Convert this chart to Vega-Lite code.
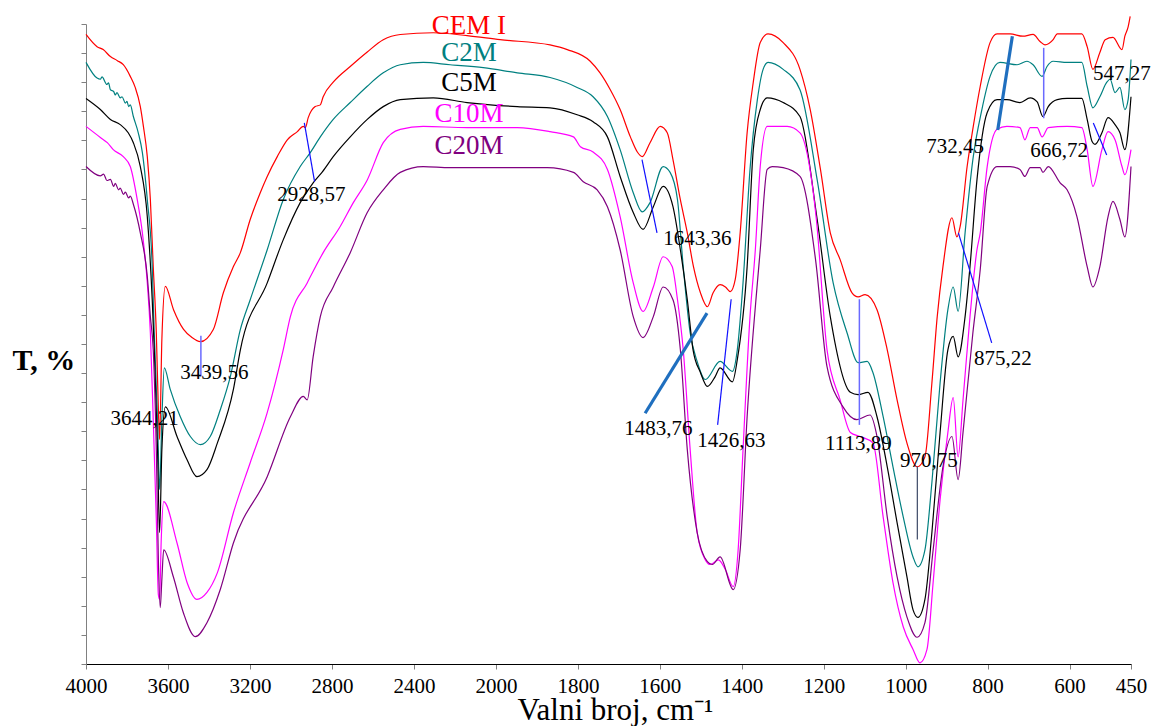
{
"$schema": "https://vega.github.io/schema/vega-lite/v6.json",
"width": 1045, "height": 640,
"autosize": {"type": "none"},
"padding": {"left": 86, "top": 24, "right": 23, "bottom": 62},
"background": "white",
"config": {"view": {"stroke": null}, "font": "Liberation Serif"},
"encoding": {
  "x": {"field": "w", "type": "quantitative",
    "scale": {"domain": [4000, 2000, 450], "range": [0, 410, 1045], "zero": false, "nice": false},
    "axis": {"title": "Valni broj, cm⁻¹", "values": [4000,3600,3200,2800,2400,2000,1800,1600,1400,1200,1000,800,600,450],
      "format": "d", "labelFlush": false, "labelOverlap": false, "labelFontSize": 21, "labelFont": "Liberation Serif",
      "labelColor": "black", "labelPadding": 6, "tickColor": "#808080", "tickSize": 5, "domainColor": "black", "grid": false,
      "titleFontSize": 31, "titleFontWeight": "normal", "titleFont": "Liberation Serif", "titleColor": "black",
      "titleBaseline": "alphabetic", "titleY": 55, "titleX": 529, "titleAlign": "center"}},
  "y": {"field": "t", "type": "quantitative",
    "scale": {"domain": [0, 110], "zero": false, "nice": false},
    "axis": {"title": "T, %", "labels": false, "values": [0,5,10,15,20,25,30,35,40,45,50,55,60,65,70,75,80,85,90,95,100,105,110],
      "tickColor": "#808080", "domainColor": "#808080", "tickSize": 5, "grid": false, "titleAngle": 0, "titleX": -74, "titleY": 345,
      "titleAlign": "left", "titleBaseline": "alphabetic", "titleFontSize": 30, "titleFontWeight": "bold",
      "titleFont": "Liberation Serif", "titleColor": "black"}}
},
"layer": [
{
  "data": {"values": [
{"s":"CEM I","w":4000,"t":108.2},{"s":"CEM I","w":3946,"t":106.1},{"s":"CEM I","w":3916,"t":105.6},{"s":"CEM I","w":3881,"t":104.4},{"s":"CEM I","w":3847,"t":103.7},{"s":"CEM I","w":3818,"t":103.0},{"s":"CEM I","w":3784,"t":101.0},{"s":"CEM I","w":3760,"t":99.1},{"s":"CEM I","w":3735,"t":95.8},{"s":"CEM I","w":3720,"t":92.4},{"s":"CEM I","w":3701,"t":87.2},{"s":"CEM I","w":3686,"t":79.8},{"s":"CEM I","w":3672,"t":68.3},{"s":"CEM I","w":3657,"t":56.9},{"s":"CEM I","w":3647,"t":43.8},{"s":"CEM I","w":3641,"t":38.6},{"s":"CEM I","w":3630,"t":55.7},{"s":"CEM I","w":3613,"t":64.9},{"s":"CEM I","w":3573,"t":60.9},{"s":"CEM I","w":3524,"t":57.5},{"s":"CEM I","w":3483,"t":56.1},{"s":"CEM I","w":3442,"t":55.4},{"s":"CEM I","w":3379,"t":57.5},{"s":"CEM I","w":3330,"t":63.8},{"s":"CEM I","w":3281,"t":68.3},{"s":"CEM I","w":3247,"t":70.7},{"s":"CEM I","w":3199,"t":76.4},{"s":"CEM I","w":3150,"t":81.0},{"s":"CEM I","w":3116,"t":83.8},{"s":"CEM I","w":3067,"t":87.2},{"s":"CEM I","w":3018,"t":90.1},{"s":"CEM I","w":2969,"t":91.5},{"s":"CEM I","w":2940,"t":92.4},{"s":"CEM I","w":2930,"t":92.2},{"s":"CEM I","w":2916,"t":93.9},{"s":"CEM I","w":2882,"t":95.8},{"s":"CEM I","w":2857,"t":96.1},{"s":"CEM I","w":2843,"t":97.5},{"s":"CEM I","w":2794,"t":100.0},{"s":"CEM I","w":2711,"t":102.7},{"s":"CEM I","w":2628,"t":105.2},{"s":"CEM I","w":2550,"t":107.3},{"s":"CEM I","w":2467,"t":108.2},{"s":"CEM I","w":2306,"t":108.5},{"s":"CEM I","w":2141,"t":108.0},{"s":"CEM I","w":1990,"t":107.3},{"s":"CEM I","w":1868,"t":106.4},{"s":"CEM I","w":1826,"t":105.6},{"s":"CEM I","w":1770,"t":103.6},{"s":"CEM I","w":1746,"t":101.6},{"s":"CEM I","w":1721,"t":98.7},{"s":"CEM I","w":1697,"t":95.3},{"s":"CEM I","w":1672,"t":90.6},{"s":"CEM I","w":1655,"t":88.0},{"s":"CEM I","w":1643,"t":87.2},{"s":"CEM I","w":1624,"t":89.6},{"s":"CEM I","w":1599,"t":92.4},{"s":"CEM I","w":1582,"t":91.3},{"s":"CEM I","w":1568,"t":86.7},{"s":"CEM I","w":1550,"t":79.8},{"s":"CEM I","w":1533,"t":74.1},{"s":"CEM I","w":1518,"t":68.3},{"s":"CEM I","w":1501,"t":63.8},{"s":"CEM I","w":1484,"t":61.4},{"s":"CEM I","w":1470,"t":63.8},{"s":"CEM I","w":1453,"t":65.2},{"s":"CEM I","w":1440,"t":64.8},{"s":"CEM I","w":1428,"t":64.0},{"s":"CEM I","w":1416,"t":66.1},{"s":"CEM I","w":1404,"t":74.1},{"s":"CEM I","w":1387,"t":91.3},{"s":"CEM I","w":1372,"t":100.0},{"s":"CEM I","w":1355,"t":106.8},{"s":"CEM I","w":1336,"t":108.3},{"s":"CEM I","w":1299,"t":106.8},{"s":"CEM I","w":1258,"t":102.2},{"s":"CEM I","w":1233,"t":95.3},{"s":"CEM I","w":1208,"t":85.0},{"s":"CEM I","w":1184,"t":74.1},{"s":"CEM I","w":1160,"t":69.5},{"s":"CEM I","w":1131,"t":63.8},{"s":"CEM I","w":1116,"t":63.1},{"s":"CEM I","w":1099,"t":63.5},{"s":"CEM I","w":1070,"t":60.9},{"s":"CEM I","w":1045,"t":54.0},{"s":"CEM I","w":1021,"t":45.4},{"s":"CEM I","w":997,"t":38.0},{"s":"CEM I","w":972,"t":33.9},{"s":"CEM I","w":953,"t":35.6},{"s":"CEM I","w":936,"t":48.3},{"s":"CEM I","w":923,"t":59.7},{"s":"CEM I","w":909,"t":68.3},{"s":"CEM I","w":887,"t":76.7},{"s":"CEM I","w":875,"t":73.4},{"s":"CEM I","w":867,"t":75.2},{"s":"CEM I","w":850,"t":85.5},{"s":"CEM I","w":835,"t":92.4},{"s":"CEM I","w":818,"t":99.3},{"s":"CEM I","w":794,"t":106.8},{"s":"CEM I","w":777,"t":108.3},{"s":"CEM I","w":745,"t":108.3},{"s":"CEM I","w":714,"t":107.9},{"s":"CEM I","w":689,"t":108.2},{"s":"CEM I","w":672,"t":107.0},{"s":"CEM I","w":660,"t":106.4},{"s":"CEM I","w":640,"t":107.3},{"s":"CEM I","w":630,"t":108.3},{"s":"CEM I","w":606,"t":108.3},{"s":"CEM I","w":570,"t":108.3},{"s":"CEM I","w":557,"t":106.1},{"s":"CEM I","w":543,"t":102.2},{"s":"CEM I","w":526,"t":105.1},{"s":"CEM I","w":513,"t":107.3},{"s":"CEM I","w":494,"t":107.7},{"s":"CEM I","w":472,"t":105.6},{"s":"CEM I","w":465,"t":107.9},{"s":"CEM I","w":457,"t":109.5},{"s":"CEM I","w":452,"t":111.3},
{"s":"C2M","w":4000,"t":103.4},{"s":"C2M","w":3946,"t":100.7},{"s":"C2M","w":3930,"t":100.5},{"s":"C2M","w":3922,"t":100.9},{"s":"C2M","w":3898,"t":99.6},{"s":"C2M","w":3890,"t":99.9},{"s":"C2M","w":3881,"t":98.7},{"s":"C2M","w":3865,"t":98.4},{"s":"C2M","w":3857,"t":97.8},{"s":"C2M","w":3849,"t":98.2},{"s":"C2M","w":3833,"t":97.3},{"s":"C2M","w":3824,"t":97.5},{"s":"C2M","w":3808,"t":96.4},{"s":"C2M","w":3800,"t":96.7},{"s":"C2M","w":3792,"t":95.8},{"s":"C2M","w":3784,"t":96.1},{"s":"C2M","w":3769,"t":94.1},{"s":"C2M","w":3745,"t":91.3},{"s":"C2M","w":3725,"t":87.9},{"s":"C2M","w":3701,"t":79.8},{"s":"C2M","w":3677,"t":68.3},{"s":"C2M","w":3667,"t":56.9},{"s":"C2M","w":3651,"t":42.0},{"s":"C2M","w":3641,"t":30.0},{"s":"C2M","w":3630,"t":42.0},{"s":"C2M","w":3618,"t":50.9},{"s":"C2M","w":3589,"t":47.2},{"s":"C2M","w":3540,"t":42.5},{"s":"C2M","w":3491,"t":39.1},{"s":"C2M","w":3442,"t":37.7},{"s":"C2M","w":3394,"t":39.1},{"s":"C2M","w":3345,"t":43.7},{"s":"C2M","w":3296,"t":49.4},{"s":"C2M","w":3247,"t":57.5},{"s":"C2M","w":3199,"t":62.6},{"s":"C2M","w":3116,"t":71.2},{"s":"C2M","w":3038,"t":79.8},{"s":"C2M","w":2955,"t":85.5},{"s":"C2M","w":2906,"t":87.9},{"s":"C2M","w":2857,"t":90.6},{"s":"C2M","w":2794,"t":93.6},{"s":"C2M","w":2711,"t":96.5},{"s":"C2M","w":2628,"t":99.3},{"s":"C2M","w":2550,"t":101.6},{"s":"C2M","w":2467,"t":103.0},{"s":"C2M","w":2355,"t":103.4},{"s":"C2M","w":2224,"t":103.0},{"s":"C2M","w":2062,"t":102.5},{"s":"C2M","w":1948,"t":101.6},{"s":"C2M","w":1868,"t":100.8},{"s":"C2M","w":1802,"t":99.1},{"s":"C2M","w":1763,"t":97.5},{"s":"C2M","w":1728,"t":94.1},{"s":"C2M","w":1697,"t":88.4},{"s":"C2M","w":1665,"t":81.0},{"s":"C2M","w":1643,"t":77.7},{"s":"C2M","w":1624,"t":79.3},{"s":"C2M","w":1592,"t":85.5},{"s":"C2M","w":1575,"t":84.5},{"s":"C2M","w":1557,"t":79.8},{"s":"C2M","w":1543,"t":68.3},{"s":"C2M","w":1526,"t":56.9},{"s":"C2M","w":1509,"t":52.0},{"s":"C2M","w":1489,"t":48.9},{"s":"C2M","w":1453,"t":52.0},{"s":"C2M","w":1423,"t":50.3},{"s":"C2M","w":1411,"t":54.0},{"s":"C2M","w":1397,"t":65.5},{"s":"C2M","w":1380,"t":85.0},{"s":"C2M","w":1362,"t":97.0},{"s":"C2M","w":1348,"t":102.2},{"s":"C2M","w":1336,"t":103.4},{"s":"C2M","w":1299,"t":102.2},{"s":"C2M","w":1258,"t":98.7},{"s":"C2M","w":1216,"t":83.2},{"s":"C2M","w":1177,"t":65.5},{"s":"C2M","w":1143,"t":56.9},{"s":"C2M","w":1116,"t":51.8},{"s":"C2M","w":1094,"t":52.0},{"s":"C2M","w":1080,"t":50.1},{"s":"C2M","w":1055,"t":42.5},{"s":"C2M","w":1031,"t":33.9},{"s":"C2M","w":1006,"t":25.3},{"s":"C2M","w":982,"t":18.4},{"s":"C2M","w":970,"t":16.7},{"s":"C2M","w":953,"t":19.6},{"s":"C2M","w":936,"t":31.2},{"s":"C2M","w":916,"t":48.3},{"s":"C2M","w":897,"t":60.9},{"s":"C2M","w":884,"t":64.8},{"s":"C2M","w":872,"t":60.6},{"s":"C2M","w":855,"t":74.1},{"s":"C2M","w":836,"t":86.7},{"s":"C2M","w":814,"t":95.3},{"s":"C2M","w":794,"t":101.0},{"s":"C2M","w":770,"t":103.4},{"s":"C2M","w":728,"t":103.0},{"s":"C2M","w":704,"t":103.6},{"s":"C2M","w":689,"t":103.0},{"s":"C2M","w":667,"t":101.0},{"s":"C2M","w":655,"t":102.7},{"s":"C2M","w":640,"t":103.6},{"s":"C2M","w":606,"t":103.4},{"s":"C2M","w":570,"t":103.4},{"s":"C2M","w":557,"t":99.3},{"s":"C2M","w":543,"t":95.6},{"s":"C2M","w":526,"t":97.5},{"s":"C2M","w":509,"t":100.0},{"s":"C2M","w":501,"t":100.5},{"s":"C2M","w":489,"t":98.2},{"s":"C2M","w":477,"t":99.1},{"s":"C2M","w":465,"t":95.3},{"s":"C2M","w":457,"t":97.0},{"s":"C2M","w":450,"t":103.9},
{"s":"C5M","w":4000,"t":97.2},{"s":"C5M","w":3930,"t":95.3},{"s":"C5M","w":3881,"t":93.6},{"s":"C5M","w":3833,"t":92.7},{"s":"C5M","w":3794,"t":91.3},{"s":"C5M","w":3769,"t":89.6},{"s":"C5M","w":3735,"t":85.5},{"s":"C5M","w":3701,"t":76.9},{"s":"C5M","w":3677,"t":62.6},{"s":"C5M","w":3667,"t":54.0},{"s":"C5M","w":3651,"t":36.8},{"s":"C5M","w":3641,"t":22.6},{"s":"C5M","w":3630,"t":36.8},{"s":"C5M","w":3613,"t":44.2},{"s":"C5M","w":3556,"t":39.1},{"s":"C5M","w":3507,"t":35.1},{"s":"C5M","w":3459,"t":32.2},{"s":"C5M","w":3410,"t":33.4},{"s":"C5M","w":3359,"t":38.0},{"s":"C5M","w":3281,"t":47.2},{"s":"C5M","w":3247,"t":54.0},{"s":"C5M","w":3116,"t":65.5},{"s":"C5M","w":3038,"t":72.9},{"s":"C5M","w":2955,"t":79.3},{"s":"C5M","w":2892,"t":82.7},{"s":"C5M","w":2847,"t":84.6},{"s":"C5M","w":2794,"t":87.2},{"s":"C5M","w":2711,"t":90.6},{"s":"C5M","w":2628,"t":93.6},{"s":"C5M","w":2550,"t":95.8},{"s":"C5M","w":2467,"t":97.0},{"s":"C5M","w":2306,"t":97.3},{"s":"C5M","w":2141,"t":96.5},{"s":"C5M","w":1948,"t":95.8},{"s":"C5M","w":1868,"t":95.6},{"s":"C5M","w":1802,"t":94.4},{"s":"C5M","w":1763,"t":93.2},{"s":"C5M","w":1728,"t":90.6},{"s":"C5M","w":1697,"t":83.8},{"s":"C5M","w":1665,"t":77.6},{"s":"C5M","w":1641,"t":74.7},{"s":"C5M","w":1616,"t":78.6},{"s":"C5M","w":1592,"t":82.1},{"s":"C5M","w":1568,"t":78.6},{"s":"C5M","w":1550,"t":71.2},{"s":"C5M","w":1533,"t":62.6},{"s":"C5M","w":1519,"t":54.0},{"s":"C5M","w":1501,"t":50.1},{"s":"C5M","w":1484,"t":47.7},{"s":"C5M","w":1465,"t":49.4},{"s":"C5M","w":1453,"t":50.9},{"s":"C5M","w":1423,"t":48.5},{"s":"C5M","w":1411,"t":52.3},{"s":"C5M","w":1387,"t":68.3},{"s":"C5M","w":1372,"t":88.4},{"s":"C5M","w":1355,"t":95.3},{"s":"C5M","w":1338,"t":97.3},{"s":"C5M","w":1299,"t":96.5},{"s":"C5M","w":1258,"t":94.1},{"s":"C5M","w":1216,"t":76.4},{"s":"C5M","w":1184,"t":59.7},{"s":"C5M","w":1135,"t":46.7},{"s":"C5M","w":1116,"t":46.3},{"s":"C5M","w":1092,"t":46.7},{"s":"C5M","w":1070,"t":42.5},{"s":"C5M","w":1045,"t":33.9},{"s":"C5M","w":1021,"t":24.3},{"s":"C5M","w":997,"t":15.0},{"s":"C5M","w":982,"t":9.3},{"s":"C5M","w":970,"t":8.0},{"s":"C5M","w":953,"t":11.1},{"s":"C5M","w":936,"t":22.6},{"s":"C5M","w":916,"t":39.8},{"s":"C5M","w":897,"t":54.0},{"s":"C5M","w":884,"t":56.3},{"s":"C5M","w":872,"t":52.8},{"s":"C5M","w":855,"t":59.7},{"s":"C5M","w":843,"t":68.3},{"s":"C5M","w":826,"t":83.2},{"s":"C5M","w":801,"t":94.8},{"s":"C5M","w":777,"t":97.0},{"s":"C5M","w":753,"t":97.0},{"s":"C5M","w":721,"t":96.5},{"s":"C5M","w":696,"t":97.3},{"s":"C5M","w":679,"t":96.6},{"s":"C5M","w":665,"t":94.1},{"s":"C5M","w":652,"t":95.8},{"s":"C5M","w":630,"t":97.0},{"s":"C5M","w":606,"t":97.2},{"s":"C5M","w":570,"t":97.2},{"s":"C5M","w":557,"t":93.6},{"s":"C5M","w":545,"t":89.8},{"s":"C5M","w":538,"t":89.3},{"s":"C5M","w":521,"t":91.3},{"s":"C5M","w":506,"t":93.9},{"s":"C5M","w":489,"t":92.7},{"s":"C5M","w":477,"t":91.3},{"s":"C5M","w":465,"t":88.4},{"s":"C5M","w":450,"t":97.5},
{"s":"C10M","w":4000,"t":92.4},{"s":"C10M","w":3930,"t":90.5},{"s":"C10M","w":3896,"t":89.6},{"s":"C10M","w":3867,"t":88.4},{"s":"C10M","w":3818,"t":87.2},{"s":"C10M","w":3784,"t":85.5},{"s":"C10M","w":3750,"t":79.8},{"s":"C10M","w":3725,"t":74.1},{"s":"C10M","w":3701,"t":65.5},{"s":"C10M","w":3686,"t":56.9},{"s":"C10M","w":3672,"t":42.0},{"s":"C10M","w":3657,"t":24.8},{"s":"C10M","w":3647,"t":11.9},{"s":"C10M","w":3641,"t":11.1},{"s":"C10M","w":3633,"t":21.4},{"s":"C10M","w":3621,"t":27.9},{"s":"C10M","w":3556,"t":20.8},{"s":"C10M","w":3507,"t":14.0},{"s":"C10M","w":3459,"t":11.1},{"s":"C10M","w":3410,"t":12.3},{"s":"C10M","w":3359,"t":15.7},{"s":"C10M","w":3281,"t":26.0},{"s":"C10M","w":3199,"t":34.6},{"s":"C10M","w":3116,"t":43.2},{"s":"C10M","w":3038,"t":54.0},{"s":"C10M","w":3003,"t":59.7},{"s":"C10M","w":2921,"t":65.5},{"s":"C10M","w":2843,"t":70.7},{"s":"C10M","w":2760,"t":75.2},{"s":"C10M","w":2696,"t":79.3},{"s":"C10M","w":2628,"t":83.2},{"s":"C10M","w":2550,"t":89.6},{"s":"C10M","w":2467,"t":91.9},{"s":"C10M","w":2355,"t":92.4},{"s":"C10M","w":2141,"t":92.2},{"s":"C10M","w":1948,"t":92.2},{"s":"C10M","w":1868,"t":91.5},{"s":"C10M","w":1811,"t":90.6},{"s":"C10M","w":1794,"t":88.9},{"s":"C10M","w":1763,"t":88.0},{"s":"C10M","w":1728,"t":85.0},{"s":"C10M","w":1697,"t":76.9},{"s":"C10M","w":1665,"t":65.5},{"s":"C10M","w":1641,"t":60.6},{"s":"C10M","w":1616,"t":64.8},{"s":"C10M","w":1592,"t":70.0},{"s":"C10M","w":1570,"t":68.3},{"s":"C10M","w":1557,"t":62.6},{"s":"C10M","w":1543,"t":54.0},{"s":"C10M","w":1526,"t":36.8},{"s":"C10M","w":1509,"t":22.6},{"s":"C10M","w":1489,"t":17.9},{"s":"C10M","w":1477,"t":17.1},{"s":"C10M","w":1457,"t":17.9},{"s":"C10M","w":1440,"t":16.2},{"s":"C10M","w":1421,"t":13.3},{"s":"C10M","w":1409,"t":19.6},{"s":"C10M","w":1397,"t":36.8},{"s":"C10M","w":1380,"t":59.7},{"s":"C10M","w":1367,"t":71.2},{"s":"C10M","w":1355,"t":85.5},{"s":"C10M","w":1338,"t":92.4},{"s":"C10M","w":1289,"t":92.4},{"s":"C10M","w":1258,"t":91.3},{"s":"C10M","w":1218,"t":76.4},{"s":"C10M","w":1192,"t":54.0},{"s":"C10M","w":1160,"t":45.4},{"s":"C10M","w":1135,"t":39.8},{"s":"C10M","w":1111,"t":39.1},{"s":"C10M","w":1080,"t":38.0},{"s":"C10M","w":1055,"t":25.3},{"s":"C10M","w":1031,"t":14.0},{"s":"C10M","w":1006,"t":6.4},{"s":"C10M","w":982,"t":2.5},{"s":"C10M","w":965,"t":0.2},{"s":"C10M","w":948,"t":2.5},{"s":"C10M","w":933,"t":14.0},{"s":"C10M","w":916,"t":28.2},{"s":"C10M","w":897,"t":39.8},{"s":"C10M","w":884,"t":45.8},{"s":"C10M","w":872,"t":35.6},{"s":"C10M","w":860,"t":45.4},{"s":"C10M","w":843,"t":59.7},{"s":"C10M","w":826,"t":71.2},{"s":"C10M","w":818,"t":74.1},{"s":"C10M","w":801,"t":85.5},{"s":"C10M","w":777,"t":91.9},{"s":"C10M","w":753,"t":92.4},{"s":"C10M","w":721,"t":92.2},{"s":"C10M","w":709,"t":90.1},{"s":"C10M","w":696,"t":92.2},{"s":"C10M","w":679,"t":92.2},{"s":"C10M","w":667,"t":90.6},{"s":"C10M","w":652,"t":92.2},{"s":"C10M","w":606,"t":92.4},{"s":"C10M","w":570,"t":92.2},{"s":"C10M","w":557,"t":88.4},{"s":"C10M","w":543,"t":82.1},{"s":"C10M","w":521,"t":88.4},{"s":"C10M","w":506,"t":91.5},{"s":"C10M","w":489,"t":90.1},{"s":"C10M","w":472,"t":85.5},{"s":"C10M","w":465,"t":84.1},{"s":"C10M","w":450,"t":88.4},
{"s":"C20M","w":4000,"t":85.5},{"s":"C20M","w":3930,"t":83.9},{"s":"C20M","w":3914,"t":84.2},{"s":"C20M","w":3898,"t":83.1},{"s":"C20M","w":3881,"t":83.3},{"s":"C20M","w":3865,"t":82.1},{"s":"C20M","w":3857,"t":82.6},{"s":"C20M","w":3841,"t":81.5},{"s":"C20M","w":3833,"t":81.8},{"s":"C20M","w":3817,"t":80.7},{"s":"C20M","w":3808,"t":81.1},{"s":"C20M","w":3792,"t":80.1},{"s":"C20M","w":3784,"t":80.4},{"s":"C20M","w":3768,"t":78.9},{"s":"C20M","w":3735,"t":74.1},{"s":"C20M","w":3701,"t":66.6},{"s":"C20M","w":3686,"t":59.7},{"s":"C20M","w":3672,"t":54.0},{"s":"C20M","w":3657,"t":36.8},{"s":"C20M","w":3647,"t":17.9},{"s":"C20M","w":3638,"t":9.7},{"s":"C20M","w":3630,"t":14.5},{"s":"C20M","w":3621,"t":19.6},{"s":"C20M","w":3574,"t":15.0},{"s":"C20M","w":3525,"t":8.8},{"s":"C20M","w":3467,"t":4.7},{"s":"C20M","w":3410,"t":7.1},{"s":"C20M","w":3345,"t":12.8},{"s":"C20M","w":3281,"t":20.8},{"s":"C20M","w":3116,"t":32.2},{"s":"C20M","w":3003,"t":42.5},{"s":"C20M","w":2940,"t":46.0},{"s":"C20M","w":2921,"t":45.4},{"s":"C20M","w":2892,"t":52.8},{"s":"C20M","w":2857,"t":59.7},{"s":"C20M","w":2794,"t":64.8},{"s":"C20M","w":2711,"t":70.7},{"s":"C20M","w":2628,"t":77.6},{"s":"C20M","w":2550,"t":81.5},{"s":"C20M","w":2467,"t":84.5},{"s":"C20M","w":2355,"t":85.5},{"s":"C20M","w":2224,"t":85.3},{"s":"C20M","w":1990,"t":85.3},{"s":"C20M","w":1875,"t":85.3},{"s":"C20M","w":1811,"t":84.5},{"s":"C20M","w":1787,"t":82.9},{"s":"C20M","w":1753,"t":81.5},{"s":"C20M","w":1728,"t":78.6},{"s":"C20M","w":1697,"t":71.2},{"s":"C20M","w":1665,"t":59.7},{"s":"C20M","w":1641,"t":56.1},{"s":"C20M","w":1616,"t":59.7},{"s":"C20M","w":1592,"t":64.8},{"s":"C20M","w":1568,"t":62.6},{"s":"C20M","w":1550,"t":54.0},{"s":"C20M","w":1533,"t":36.8},{"s":"C20M","w":1509,"t":22.6},{"s":"C20M","w":1484,"t":17.6},{"s":"C20M","w":1472,"t":17.1},{"s":"C20M","w":1453,"t":18.4},{"s":"C20M","w":1421,"t":12.8},{"s":"C20M","w":1404,"t":19.6},{"s":"C20M","w":1387,"t":42.5},{"s":"C20M","w":1362,"t":65.5},{"s":"C20M","w":1355,"t":71.2},{"s":"C20M","w":1338,"t":85.0},{"s":"C20M","w":1326,"t":85.5},{"s":"C20M","w":1299,"t":85.3},{"s":"C20M","w":1258,"t":83.8},{"s":"C20M","w":1220,"t":69.5},{"s":"C20M","w":1192,"t":51.1},{"s":"C20M","w":1153,"t":44.2},{"s":"C20M","w":1119,"t":42.0},{"s":"C20M","w":1087,"t":42.8},{"s":"C20M","w":1070,"t":39.1},{"s":"C20M","w":1045,"t":25.3},{"s":"C20M","w":1021,"t":15.0},{"s":"C20M","w":997,"t":8.1},{"s":"C20M","w":972,"t":4.6},{"s":"C20M","w":953,"t":7.1},{"s":"C20M","w":933,"t":19.6},{"s":"C20M","w":909,"t":33.9},{"s":"C20M","w":887,"t":39.1},{"s":"C20M","w":872,"t":31.7},{"s":"C20M","w":860,"t":39.8},{"s":"C20M","w":836,"t":56.9},{"s":"C20M","w":818,"t":67.8},{"s":"C20M","w":801,"t":82.1},{"s":"C20M","w":777,"t":85.5},{"s":"C20M","w":745,"t":85.5},{"s":"C20M","w":721,"t":85.0},{"s":"C20M","w":709,"t":83.8},{"s":"C20M","w":696,"t":85.3},{"s":"C20M","w":672,"t":85.3},{"s":"C20M","w":665,"t":84.5},{"s":"C20M","w":652,"t":85.5},{"s":"C20M","w":623,"t":82.7},{"s":"C20M","w":606,"t":81.5},{"s":"C20M","w":582,"t":76.9},{"s":"C20M","w":557,"t":68.3},{"s":"C20M","w":543,"t":64.8},{"s":"C20M","w":526,"t":68.3},{"s":"C20M","w":506,"t":76.9},{"s":"C20M","w":494,"t":79.5},{"s":"C20M","w":477,"t":76.4},{"s":"C20M","w":465,"t":73.4},{"s":"C20M","w":450,"t":85.5}
  ]},
  "mark": {"type": "line", "strokeWidth": 1.2, "interpolate": "monotone"},
  "encoding": {
    "color": {"field": "s", "type": "nominal", "legend": null,
      "scale": {"domain": ["CEM I", "C2M", "C5M", "C10M", "C20M"], "range": ["#ff0000", "#008080", "#000000", "#ff00ff", "#800080"]}}
  }
},
{
  "data": {"values": [
    {"w":2935,"t":93.0,"w2":2885,"t2":82.9},{"w":1643.6,"t":86.7,"w2":1607,"t2":74.1},{"w":1426,"t":62.7,"w2":1459,"t2":41.1},
    {"w":871.3,"t":74.1,"w2":790,"t2":55.2},{"w":542,"t":93.0,"w2":509.3,"t2":87.5}]},
  "mark": {"type": "rule", "color": "#1010ff", "strokeWidth": 1.2},
  "encoding": {"x2": {"field": "w2"}, "y2": {"field": "t2"}}
},
{
  "data": {"values": [
    {"w":3439.56,"t":56.4,"w2":3439.56,"t2":49.4},{"w":1113,"t":62.7,"w2":1113,"t2":41.1},{"w":663.1,"t":105.9,"w2":663.1,"t2":93.8}]},
  "mark": {"type": "rule", "color": "#6a6aff", "strokeWidth": 1.5},
  "encoding": {"x2": {"field": "w2"}, "y2": {"field": "t2"}}
},
{
  "data": {"values": [
    {"w":1485,"t":60.3,"w2":1636,"t2":43.1},{"w":739.6,"t":107.9,"w2":775.3,"t2":91.8}]},
  "mark": {"type": "rule", "color": "#1f6fbf", "strokeWidth": 3.2},
  "encoding": {"x2": {"field": "w2"}, "y2": {"field": "t2"}}
},
{
  "data": {"values": [{"w":971.5,"t":34.0,"w2":971.5,"t2":21.4}]},
  "mark": {"type": "rule", "color": "#4a5570", "strokeWidth": 1.3},
  "encoding": {"x2": {"field": "w2"}, "y2": {"field": "t2"}}
},
{
  "data": {"values": [
    {"w":3881,"t":41.1,"l":"3644,21"},{"w":3540,"t":49.0,"l":"3439,56"},{"w":3067,"t":79.5,"l":"2928,57"},
    {"w":1592,"t":72.1,"l":"1643,36"},{"w":1687,"t":39.4,"l":"1483,76"},{"w":1509,"t":37.3,"l":"1426,63"},
    {"w":1197,"t":36.8,"l":"1113,89"},{"w":1014,"t":33.9,"l":"970,75"},{"w":833,"t":51.4,"l":"875,22"},
    {"w":950,"t":87.9,"l":"732,45"},{"w":696,"t":87.2,"l":"666,72"},{"w":543,"t":100.4,"l":"547,27"}]},
  "mark": {"type": "text", "align": "left", "baseline": "alphabetic", "font": "Liberation Serif", "fontSize": 21, "color": "black"},
  "encoding": {"text": {"field": "l"}}
},
{
  "data": {"values": [
    {"s":"CEM I","w":2132,"t":108.2},{"s":"C2M","w":2132,"t":103.6},{"s":"C5M","w":2132,"t":98.4},
    {"s":"C10M","w":2132,"t":93.1},{"s":"C20M","w":2132,"t":87.7}]},
  "mark": {"type": "text", "align": "center", "baseline": "alphabetic", "font": "Liberation Serif", "fontSize": 27},
  "encoding": {"text": {"field": "s"}, "color": {"field": "s", "type": "nominal", "legend": null}}
}
]
}
